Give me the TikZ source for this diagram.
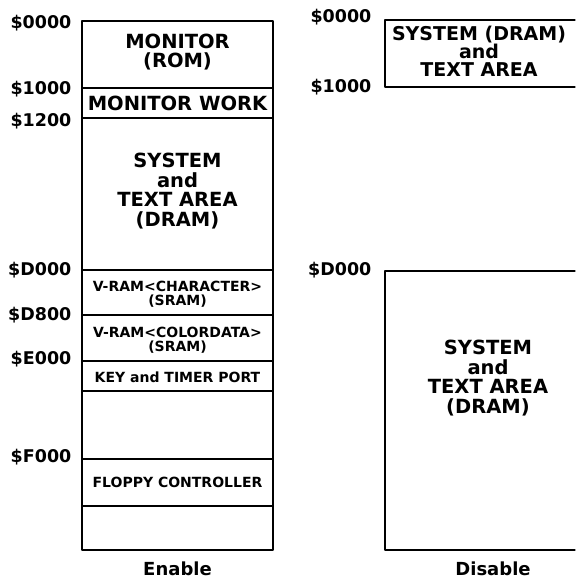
\documentclass[tikz,border=0pt]{standalone}
\usepackage{fontspec}
\setmainfont{DejaVu Sans}
\usetikzlibrary{positioning}

\begin{document}
\begin{tikzpicture}[x=1pt, y=-1pt, line cap=round, line join=round, line width=1.2pt,
  addr/.style={anchor=east, inner sep=0pt, font=\bfseries\fontsize{17.5}{17.5}\selectfont},
  bigtxt/.style={align=center, inner sep=0pt, font=\bfseries\fontsize{19.5}{19.5}\selectfont},
  smalltxt/.style={align=center, inner sep=0pt, font=\bfseries\fontsize{14}{13.5}\selectfont},
  capt/.style={inner sep=0pt, font=\bfseries\fontsize{18}{18}\selectfont}]

\useasboundingbox (0,0) rectangle (575,580);

% ----------------------------
% PARAMETERS
% ----------------------------
\def\xL{82}      % left map, left edge
\def\xR{273}     % left map, right edge
\def\xM{177.5}   % left map, centre
\def\xD{385}     % right map, left edge
\def\xE{575}     % right map, open right end

% ----------------------------
% LEFT MAP (Enable)
% ----------------------------
\draw (\xL,21) rectangle (\xR,550);
\foreach \y in {88,118,270,315,361,391,459,506}
  \draw (\xL,\y) -- (\xR,\y);

% addresses
\node[addr] (aL0000) at (72,23)  {\$0000};
\node[addr] (aL1000) at (72,89)  {\$1000};
\node[addr] (aL1200) at (72,121) {\$1200};
\node[addr] (aLD000) at (72,270) {\$D000};
\node[addr] (aLD800) at (72,315) {\$D800};
\node[addr] (aLE000) at (72,359) {\$E000};
\node[addr] (aLF000) at (72,457) {\$F000};

% areas
\node[bigtxt] (monRom)  at (\xM,52)  {MONITOR\\(ROM)};
\node[bigtxt] (monWork) at (\xM,103) {MONITOR WORK};
\node[bigtxt] (sysL)    at (\xM,191) {SYSTEM\\and\\TEXT AREA\\(DRAM)};
\node[smalltxt] (vramChr) at (\xM,294) {V-RAM<CHARACTER>\\(SRAM)};
\node[smalltxt] (vramCol) at (\xM,340) {V-RAM<COLORDATA>\\(SRAM)};
\node[smalltxt] (keyPort) at (\xM,377) {KEY and TIMER PORT};
\node[smalltxt] (fdc)     at (\xM,482) {FLOPPY CONTROLLER};

\node[capt] (enable) at (\xM,569) {Enable};

% ----------------------------
% RIGHT MAP (Disable)
% ----------------------------
\draw (\xE,20) -- (\xD,20) -- (\xD,87) -- (\xE,87);
\draw (\xE,271) -- (\xD,271) -- (\xD,550) -- (\xE,550);

% addresses
\node[addr] (aR0000) at (372,17)  {\$0000};
\node[addr] (aR1000) at (372,87)  {\$1000};
\node[addr] (aRD000) at (372,270) {\$D000};

% areas
\node[bigtxt, font=\bfseries\fontsize{19}{18}\selectfont] (sysTop) at (479,51) {SYSTEM (DRAM)\\and\\TEXT AREA};
\node[bigtxt] (sysBot) at (488,378) {SYSTEM\\and\\TEXT AREA\\(DRAM)};

\node[capt] (disable) at (493,569) {Disable};

\end{tikzpicture}
\end{document}
